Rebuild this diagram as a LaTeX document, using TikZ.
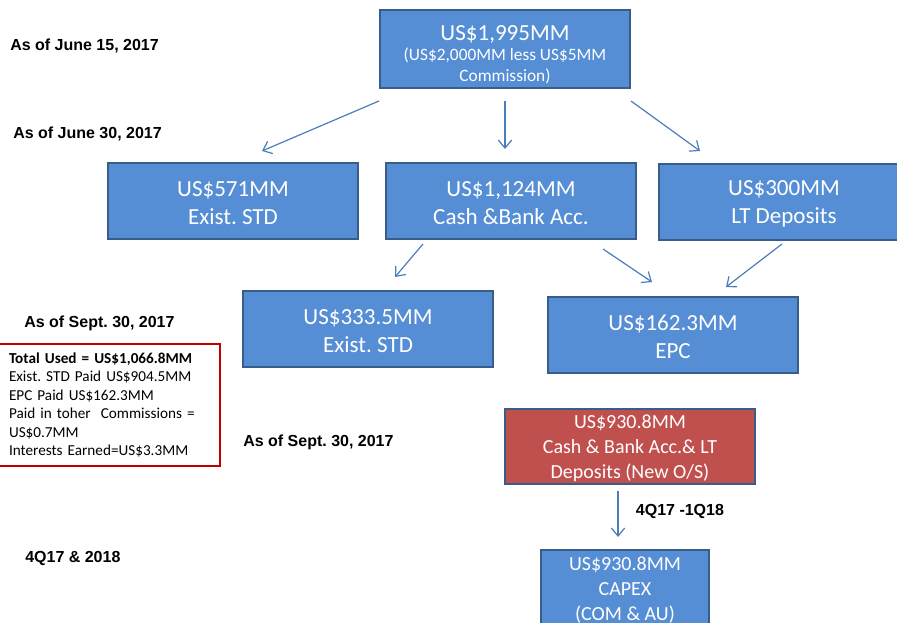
\documentclass[tikz,border=0pt]{standalone}
\usepackage{fontspec}
\setmainfont{Carlito}
\newfontfamily\lblfont{Liberation Sans}
\usetikzlibrary{calc,arrows.meta}
\frenchspacing

\definecolor{boxblue}{RGB}{85,142,213}
\definecolor{boxline}{RGB}{56,93,138}
\definecolor{boxred}{RGB}{192,80,77}
\definecolor{arrblue}{RGB}{74,126,187}
\definecolor{noteline}{RGB}{192,0,0}

\tikzset{
    box/.style={draw=boxline, line width=1.5pt, fill=boxblue, text=white, align=center,
        inner sep=0pt, minimum width=187.5pt, minimum height=57pt,
        font=\fontsize{17.3}{21}\selectfont},
    smallbox/.style={box, font=\fontsize{15}{18.75}\selectfont},
    arr/.style={-{Straight Barb[length=6pt,width=10pt]}, arrblue, line width=0.9pt},
    datelbl/.style={anchor=west, inner sep=0pt, text=black, font=\lblfont\bfseries\fontsize{12}{14}\selectfont},
    note/.style={draw=noteline, line width=1pt, align=left, text width=150pt, inner xsep=8.25pt,
        minimum height=91.5pt, font=\fontsize{11.4}{13.9}\selectfont}
}

\begin{document}
\begin{tikzpicture}[x=0.75pt,y=-0.75pt]
    \useasboundingbox (0,0) rectangle (897,623);

    % dates
    \node[datelbl] (d1) at (10,46) {As of June 15, 2017};
    \node[datelbl] (d2) at (13,134) {As of June 30, 2017};
    \node[datelbl] (d3) at (24,323) {As of Sept. 30, 2017};
    \node[datelbl] (d4) at (243,442) {As of Sept. 30, 2017};
    \node[datelbl] (d5) at (25,558) {4Q17 \& 2018};

    % boxes
    \node[box, minimum height=58.5pt] (top) at (505,49) {};
    \node[align=center, text=white, inner sep=0pt, font=\fontsize{17.3}{21}\selectfont] (toptxt) at (505,55)
        {\raisebox{-3pt}{US\$1,995MM}\\[-3.5pt]{\fontsize{13}{14.5}\selectfont (US\$2,000MM less US\$5MM}\\[-5pt]{\fontsize{13}{14.5}\selectfont Commission)}};
    \node[box] (std) at (233,201) {\strut US\$571MM\\Exist. STD};
    \node[box] (cash) at (511,201) {\strut US\$1,124MM\\Cash \&Bank Acc.};
    \node[box] (lt) at (784,202) {\strut US\$300MM\\LT Deposits};
    \node[box] (std2) at (368,329) {\strut US\$333.5MM\\Exist. STD};
    \node[box] (epc) at (673,335) {\strut US\$162.3MM\\EPC};
    \node[smallbox, fill=boxred, minimum height=56.25pt] (left) at (630,446.5)
        {\strut US\$930.8MM\\Cash \& Bank Acc.\& LT\\Deposits (New O/S)};
    \node[smallbox, minimum width=126pt, minimum height=60pt] (capex) at (625,590)
        {US\$930.8MM\\CAPEX\\(COM \& AU)};

    \node[note] (used) at (109,405)
        {\textbf{Total Used = US\$1,066.8MM}\\Exist. STD Paid US\$904.5MM\\EPC Paid US\$162.3MM\\Paid in toher\ \ Commissions =\\US\$0.7MM\\Interests Earned=US\$3.3MM};

    % arrows
    \draw[arr] ($(top.south west)+(0,12)$) -- ($(std.north)+(29,-11)$);
    \draw[arr] ($(top.south)+(0,12)$) -- ($(cash.north)+(-6,-13)$);
    \draw[arr] ($(top.south east)+(0,12)$) -- ($(lt.north)+(-84,-12)$);
    \draw[arr] ($(cash.south)+(-88,4)$) -- ($(std2.north)+(27,-13)$);
    \draw[arr] ($(cash.south)+(92,9)$) -- ($(epc.north)+(-21,-14)$);
    \draw[arr] ($(lt.south)+(-2,3)$) -- ($(epc.north)+(53,-9)$);
    \draw[arr] ($(left.south)+(-12,6)$) -- ($(capex.north)+(-7,-12)$)
        node[datelbl, pos=0.45, xshift=13pt] (q) {4Q17 -1Q18};
\end{tikzpicture}
\end{document}
